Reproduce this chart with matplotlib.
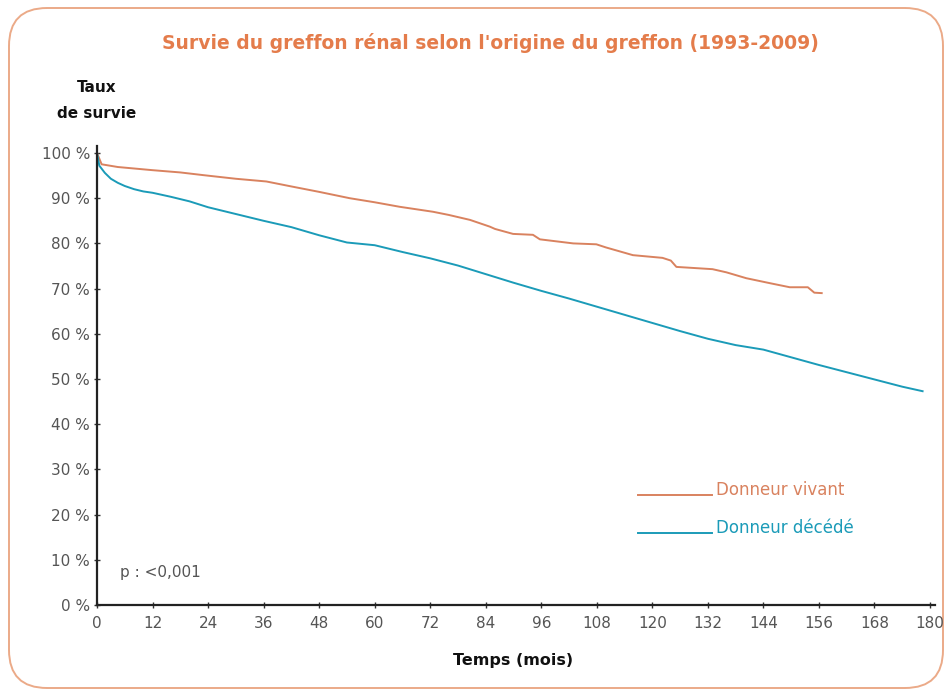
import matplotlib
matplotlib.use("Agg")
import matplotlib.pyplot as plt
from matplotlib.patches import FancyBboxPatch

# Data (months, survival %)
months_vivant = [0, 1, 4.5, 12, 18, 23, 30, 36.6, 42, 48, 54.6, 60, 65.4, 72.6, 76, 80.6,
                 84.9, 86, 89.9, 94.2, 95.7, 102.9, 107.9, 110, 115.8, 122.2, 124, 125.2,
                 133, 136, 140.3, 145.4, 149.7, 153.6, 155, 156.6]
surv_vivant = [100, 97.5, 96.9, 96.2, 95.7, 95.1, 94.3, 93.7, 92.6, 91.4, 90.0, 89.1, 88.1,
               87.0, 86.3, 85.2, 83.7, 83.2, 82.1, 81.9, 80.9, 80.0, 79.8, 79.1, 77.4, 76.8,
               76.2, 74.8, 74.3, 73.6, 72.3, 71.2, 70.3, 70.3, 69.1, 69.0]

months_decede = [0, 0.5, 1.7, 3, 4.5, 6, 8, 10, 12, 16, 20, 24, 30, 36, 42, 48, 54, 60, 66,
                 72, 78, 84, 90, 96, 102, 108, 114, 120, 126, 132, 138, 144, 150, 156, 162,
                 168, 174, 178.4]
surv_decede = [100, 97.2, 95.6, 94.3, 93.4, 92.7, 92.0, 91.5, 91.2, 90.3, 89.3, 88.0, 86.5,
               85.0, 83.6, 81.8, 80.2, 79.6, 78.1, 76.7, 75.1, 73.2, 71.3, 69.5, 67.8, 66.0,
               64.2, 62.4, 60.6, 58.9, 57.5, 56.5, 54.8, 53.1, 51.5, 49.9, 48.3, 47.3]

x_ticks = list(range(0, 181, 12))
y_ticks = list(range(0, 101, 10))
y_labels = [f"{v} %" for v in y_ticks]

col_vivant = "#D9825F"
col_decede = "#1B9BB8"
col_title = "#E47C4B"
col_tick = "#555555"

fig = plt.figure(figsize=(9.52, 6.94), dpi=100)

# rounded border around the whole chart
border = FancyBboxPatch((0.09, 0.06), 9.34, 6.8,
                        boxstyle="round,pad=0,rounding_size=0.38",
                        transform=fig.dpi_scale_trans, facecolor="none",
                        edgecolor="#EBAA88", linewidth=1.4, zorder=-1)
fig.patches.append(border)

ax = fig.add_axes([97 / 952, 1 - 605 / 694, 833 / 952, 452 / 694])
ax.set_facecolor("none")

ax.plot(months_vivant, surv_vivant, color=col_vivant, lw=1.4)
ax.plot(months_decede, surv_decede, color=col_decede, lw=1.4)

ax.set_xlim(0, 180)
ax.set_ylim(0, 100)
ax.set_xticks(x_ticks)
ax.set_yticks(y_ticks)
ax.set_yticklabels(y_labels)
for s in ["top", "right"]:
    ax.spines[s].set_visible(False)
for s in ["left", "bottom"]:
    ax.spines[s].set_linewidth(1.6)
    ax.spines[s].set_color("#222222")
ax.spines["left"].set_bounds(0, 101.5)
ax.spines["bottom"].set_bounds(0, 181)
ax.tick_params(axis="both", direction="inout", length=4, width=1, color="#333333",
               labelcolor=col_tick, labelsize=11)
ax.tick_params(axis="y", pad=3)
ax.tick_params(axis="x", pad=6)
ax.set_xlabel("Temps (mois)", fontsize=11.5, fontweight="bold", labelpad=16, color="#111111")

# y axis title
fig.text(97 / 952, 1 - 88 / 694, "Taux", ha="center", va="center", fontsize=11,
         fontweight="bold", color="#111111")
fig.text(97 / 952, 1 - 114 / 694, "de survie", ha="center", va="center", fontsize=11,
         fontweight="bold", color="#111111")

# title
fig.text(490 / 952, 1 - 43 / 694,
         "Survie du greffon rénal selon l'origine du greffon (1993-2009)",
         ha="center", va="center", fontsize=13.5, fontweight="bold", color=col_title)

# legend drawn by hand
ax.plot([0.649, 0.738], [0.243, 0.243], transform=ax.transAxes, color=col_vivant, lw=1.4)
ax.plot([0.649, 0.738], [0.159, 0.159], transform=ax.transAxes, color=col_decede, lw=1.4)
ax.text(0.743, 0.243, "Donneur vivant", transform=ax.transAxes, color=col_vivant,
        fontsize=12, va="baseline", ha="left")
ax.text(0.743, 0.159, "Donneur décédé", transform=ax.transAxes, color=col_decede,
        fontsize=12, va="baseline", ha="left")

ax.text(0.028, 0.071, "p : <0,001", transform=ax.transAxes, color=col_tick,
        fontsize=11, va="center", ha="left")

fig.savefig("out.png", dpi=100)
